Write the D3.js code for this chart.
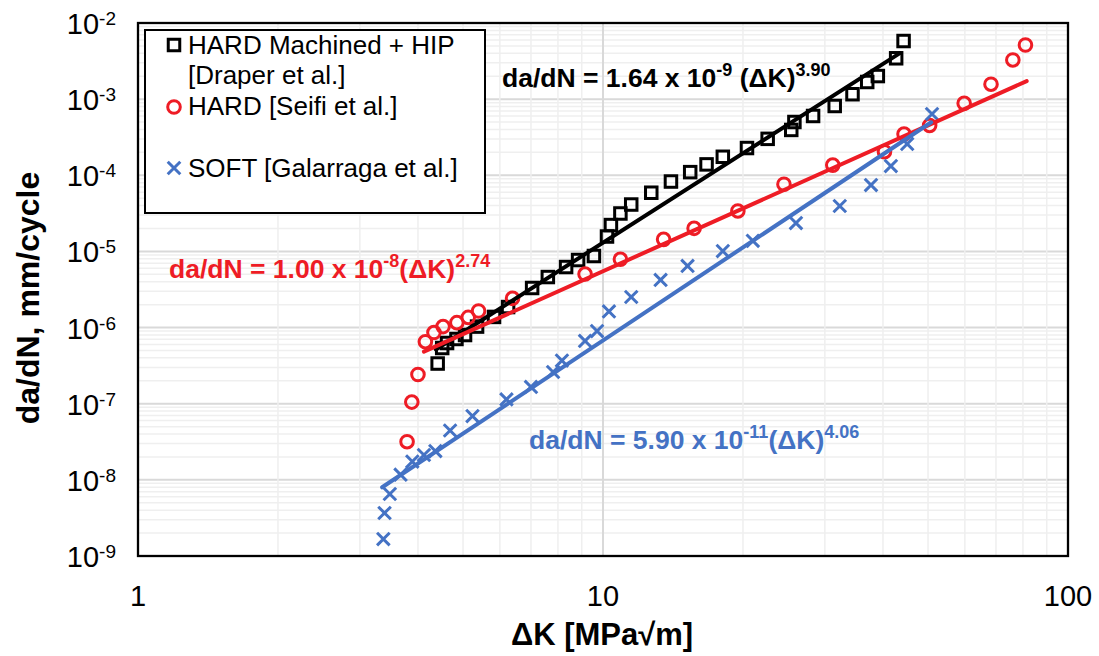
<!DOCTYPE html>
<html>
<head>
<meta charset="utf-8">
<script src="https://cdn.jsdelivr.net/npm/d3@7"></script>
<style>
  html, body { margin: 0; padding: 0; background: #ffffff; }
  svg { display: block; }
  text { font-family: "Liberation Sans", Arial, sans-serif; }
</style>
</head>
<body>
<svg id="chart" width="1099" height="656"></svg>
<script>
// ---- Data ----------------------------------------------------------------
// HARD Machined + HIP [Draper et al.]
const hipK = [4.41, 4.51, 4.62, 4.84, 5.05, 5.36, 5.83, 6.25, 7.04, 7.61, 8.33, 8.84, 9.56,
  10.2, 10.4, 10.9, 11.5, 12.7, 14.0, 15.4, 16.7, 18.1, 20.4, 22.6, 25.4, 25.8, 28.3,
  31.5, 34.4, 37.0, 39.0, 42.7, 44.3];
const hipRate = [3.37e-7, 5.39e-7, 6.27e-7, 7.08e-7, 7.98e-7, 1.03e-6, 1.38e-6, 1.86e-6,
  3.31e-6, 4.61e-6, 6.24e-6, 7.71e-6, 8.71e-6, 1.57e-5, 2.22e-5, 3.15e-5, 4.13e-5, 5.90e-5,
  8.28e-5, 1.10e-4, 1.39e-4, 1.75e-4, 2.28e-4, 3.01e-4, 3.94e-4, 5.01e-4, 6.01e-4, 8.13e-4,
  1.16e-3, 1.68e-3, 2.01e-3, 3.44e-3, 5.80e-3];

// HARD [Seifi et al.]
const seifiK = [3.79, 3.88, 4.00, 4.15, 4.33, 4.53, 4.85, 5.13, 5.40, 6.39, 9.15, 10.9,
  13.5, 15.7, 19.5, 24.5, 31.2, 40.3, 44.4, 50.4, 59.8, 68.3, 76.1, 81.0];
const seifiRate = [3.17e-8, 1.05e-7, 2.42e-7, 6.52e-7, 8.61e-7, 1.03e-6, 1.16e-6, 1.36e-6,
  1.65e-6, 2.42e-6, 5.05e-6, 7.88e-6, 1.44e-5, 2.01e-5, 3.40e-5, 7.64e-5, 1.36e-4, 2.04e-4,
  3.48e-4, 4.51e-4, 8.81e-4, 1.57e-3, 3.27e-3, 5.14e-3];

// SOFT [Galarraga et al.]
const galK = [3.37, 3.39, 3.48, 3.67, 3.89, 4.12, 4.36, 4.69, 5.24, 6.20, 7.00, 7.81, 8.16,
  9.15, 9.71, 10.3, 11.5, 13.3, 15.2, 18.1, 21.0, 26.0, 32.3, 37.7, 41.6, 45.1, 51.0];
const galRate = [1.67e-9, 3.67e-9, 6.52e-9, 1.17e-8, 1.74e-8, 2.12e-8, 2.39e-8, 4.45e-8,
  6.89e-8, 1.14e-7, 1.66e-7, 2.61e-7, 3.69e-7, 6.67e-7, 9.01e-7, 1.63e-6, 2.52e-6, 4.22e-6,
  6.44e-6, 1.01e-5, 1.38e-5, 2.36e-5, 3.95e-5, 7.45e-5, 1.32e-4, 2.58e-4, 6.38e-4];

// Paris-law fits: da/dN = C (ΔK)^m, over the ΔK span of each data set
const fitC = [1.64e-9, 1.00e-8, 5.90e-11];
const fitM = [3.90, 2.74, 4.06];
const fitKStart = [4.37, 4.12, 3.35];
const fitKEnd = [43.5, 81.5, 50.8];
const fitCText = ["1.64", "1.00", "5.90"];
const fitExpText = ["-9", "-8", "-11"];
const fitMText = ["3.90", "2.74", "4.06"];

const seriesNames = ["HARD Machined + HIP", "[Draper et al.]", "HARD [Seifi et al.]", "SOFT [Galarraga et al.]"];
const xTickLabels = ["1", "10", "100"];
const xTickValues = [1, 10, 100];
const yTickExps = [-2, -3, -4, -5, -6, -7, -8, -9];
const xTitle = "ΔK [MPa√m]";
const yTitle = "da/dN, mm/cycle";

// ---- Layout ----------------------------------------------------------------
const svg = d3.select("#chart");
const plotL = 138, plotR = 1068, plotT = 23, plotB = 556;
const BLACK = "#000000", RED = "#ee1c25", BLUE = "#4472c4";

const x = d3.scaleLog().domain([1, 100]).range([plotL, plotR]);
const y = d3.scaleLog().domain([1e-9, 1e-2]).range([plotB, plotT]);

svg.append("rect").attr("width", 1099).attr("height", 656).attr("fill", "#ffffff");

svg.append("clipPath").attr("id", "plotclip")
  .append("rect").attr("x", plotL).attr("y", plotT)
  .attr("width", plotR - plotL).attr("height", plotB - plotT);

// Gridlines
const grid = svg.append("g").attr("clip-path", "url(#plotclip)");
const isDecade = v => Math.abs(Math.log10(v) - Math.round(Math.log10(v))) < 1e-6;

y.ticks().forEach(v => {
  const major = isDecade(v);
  grid.append("line")
    .attr("x1", plotL).attr("x2", plotR)
    .attr("y1", y(v)).attr("y2", y(v))
    .attr("stroke", major ? "#d9d9d9" : "#efefef")
    .attr("stroke-width", major ? 2 : 1.5);
});
x.ticks().forEach(v => {
  const major = isDecade(v);
  grid.append("line")
    .attr("y1", plotT).attr("y2", plotB)
    .attr("x1", x(v)).attr("x2", x(v))
    .attr("stroke", major ? "#d9d9d9" : "#efefef")
    .attr("stroke-width", major ? 2 : 1.5);
});

// Markers
const marks = svg.append("g").attr("clip-path", "url(#plotclip)");
const sq = 11.5, cr = 6.3, cx = 6.3;

marks.selectAll("rect.hip").data(hipK).join("rect")
  .attr("class", "hip")
  .attr("x", d => x(d) - sq / 2)
  .attr("y", (d, i) => y(hipRate[i]) - sq / 2)
  .attr("width", sq).attr("height", sq)
  .attr("fill", "none").attr("stroke", BLACK).attr("stroke-width", 3);

marks.selectAll("circle.seifi").data(seifiK).join("circle")
  .attr("class", "seifi")
  .attr("cx", d => x(d))
  .attr("cy", (d, i) => y(seifiRate[i]))
  .attr("r", cr)
  .attr("fill", "none").attr("stroke", RED).attr("stroke-width", 3);

const crossPath = (px, py) =>
  `M${px - cx},${py - cx}L${px + cx},${py + cx}M${px - cx},${py + cx}L${px + cx},${py - cx}`;
marks.selectAll("path.gal").data(galK).join("path")
  .attr("class", "gal")
  .attr("d", (d, i) => crossPath(x(d), y(galRate[i])))
  .attr("fill", "none").attr("stroke", BLUE).attr("stroke-width", 3);

// Fit lines
const fitColors = [BLACK, RED, BLUE];
const line = d3.line().x(d => x(d[0])).y(d => y(d[1]));
fitC.forEach((c, i) => {
  const pts = [fitKStart[i], fitKEnd[i]].map(k => [k, c * Math.pow(k, fitM[i])]);
  svg.append("path")
    .attr("d", line(pts))
    .attr("fill", "none")
    .attr("stroke", fitColors[i])
    .attr("stroke-width", 4)
    .attr("stroke-linecap", "round");
});

// Plot frame
svg.append("rect")
  .attr("x", plotL).attr("y", plotT)
  .attr("width", plotR - plotL).attr("height", plotB - plotT)
  .attr("fill", "none").attr("stroke", BLACK).attr("stroke-width", 2.3);

// Y tick labels (powers of ten)
yTickExps.forEach(e => {
  const t = svg.append("text")
    .attr("x", 116).attr("y", y(Math.pow(10, e)) + 11)
    .attr("text-anchor", "end")
    .attr("font-size", 29).attr("fill", "#000");
  t.append("tspan").text("10");
  t.append("tspan").attr("font-size", 19).attr("dy", -9).text(String(e));
});

// X tick labels
xTickValues.forEach((v, i) => {
  svg.append("text")
    .attr("x", x(v)).attr("y", 606)
    .attr("text-anchor", "middle")
    .attr("font-size", 29).attr("fill", "#000")
    .text(xTickLabels[i]);
});

// Axis titles
svg.append("text")
  .attr("x", 602).attr("y", 645)
  .attr("text-anchor", "middle")
  .attr("font-size", 31).attr("font-weight", "bold")
  .text(xTitle);

svg.append("text")
  .attr("transform", "translate(39,298) rotate(-90)")
  .attr("text-anchor", "middle")
  .attr("font-size", 32).attr("font-weight", "bold")
  .text(yTitle);

// Fit equations
const eqPos = [[502, 87], [169, 278], [529, 449]];
fitC.forEach((c, i) => {
  const t = svg.append("text")
    .attr("x", eqPos[i][0]).attr("y", eqPos[i][1])
    .attr("font-size", 26.5).attr("font-weight", "bold")
    .attr("fill", fitColors[i]);
  t.append("tspan").text(`da/dN = ${fitCText[i]} x 10`);
  t.append("tspan").attr("font-size", 18).attr("dy", -11).text(fitExpText[i]);
  t.append("tspan").attr("dy", 11).text(i === 0 ? " (ΔK)" : "(ΔK)");
  t.append("tspan").attr("font-size", 18).attr("dy", -11).text(fitMText[i]);
});

// Legend
const lg = svg.append("g");
lg.append("rect")
  .attr("x", 145).attr("y", 30).attr("width", 340).attr("height", 183)
  .attr("fill", "#ffffff").attr("stroke", BLACK).attr("stroke-width", 2);

const lgX = 174, lgTextX = 188;
lg.append("rect")
  .attr("x", lgX - sq / 2).attr("y", 45 - sq / 2).attr("width", sq).attr("height", sq)
  .attr("fill", "none").attr("stroke", BLACK).attr("stroke-width", 3);
lg.append("circle")
  .attr("cx", lgX).attr("cy", 107).attr("r", cr)
  .attr("fill", "none").attr("stroke", RED).attr("stroke-width", 3);
lg.append("path")
  .attr("d", crossPath(lgX, 168))
  .attr("fill", "none").attr("stroke", BLUE).attr("stroke-width", 3);

const lgBaselines = [54, 84, 115, 177];
seriesNames.forEach((s, i) => {
  lg.append("text")
    .attr("x", lgTextX).attr("y", lgBaselines[i])
    .attr("font-size", 26).attr("fill", "#000")
    .text(s);
});
</script>
</body>
</html>
